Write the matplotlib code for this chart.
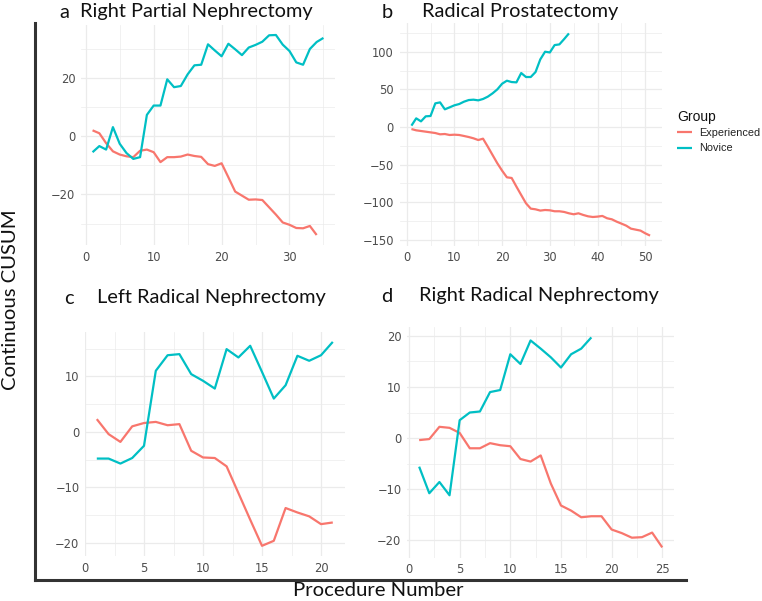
import numpy as np
import matplotlib
matplotlib.use("Agg")
import matplotlib.pyplot as plt
from matplotlib.lines import Line2D
from matplotlib.ticker import MultipleLocator

plt.rcParams['font.family'] = ['Liberation Sans', 'DejaVu Sans']

# ---------------- data ----------------
groups = ["Experienced", "Novice"]
colors = {"Experienced": "#F8766D", "Novice": "#00BFC4"}

# a  Right Partial Nephrectomy
a_exp = [2.0, 1.0, -2.4, -5.2, -6.3, -6.9, -7.2, -5.0, -4.6, -5.5, -8.9, -7.2, -7.2, -7.0,
         -6.3, -6.8, -7.1, -9.6, -10.2, -9.3, -14.1, -19.0, -20.4, -21.8, -21.7, -21.9,
         -24.4, -26.9, -29.6, -30.4, -31.5, -31.6, -30.8, -33.9]
a_nov = [-5.5, -3.4, -4.6, 3.1, -2.6, -5.8, -7.8, -7.2, 7.3, 10.5, 10.5, 19.5, 16.8, 17.2,
         21.2, 24.3, 24.5, 31.5, 29.4, 27.4, 31.7, 29.8, 27.8, 30.4, 31.3, 32.4, 34.6, 34.7,
         31.4, 29.2, 25.3, 24.5, 29.9, 32.3, 33.7]

# b  Radical Prostatectomy
b_exp = [-2.7, -4.4, -5.3, -6.2, -7.1, -8.0, -9.7, -9.3, -10.6, -10.2, -10.6, -11.9, -13.3,
         -15.0, -17.3, -15.5, -26.1, -37.2, -48.2, -58.0, -66.8, -67.7, -79.2, -90.3, -101.3,
         -108.4, -109.3, -111.0, -110.2, -110.6, -111.9, -111.9, -112.8, -114.6, -115.9,
         -114.6, -116.8, -118.6, -119.5, -119.0, -118.1, -121.2, -122.6, -125.7, -128.3,
         -131.0, -135.0, -136.3, -137.6, -141.2, -144.2]
b_nov = [1.8, 11.5, 7.5, 14.2, 14.6, 31.4, 32.7, 23.5, 26.1, 28.8, 30.5, 33.6, 35.8, 36.3,
         35.4, 37.2, 40.3, 44.7, 50.0, 57.5, 61.5, 59.7, 59.3, 71.7, 66.4, 66.4, 73.0, 89.8,
         100.0, 99.0, 108.8, 109.7, 116.8, 124.3]

# c  Left Radical Nephrectomy
c_exp = [2.3, -0.4, -1.8, 1.0, 1.6, 1.8, 1.2, 1.4, -3.4, -4.6, -4.7, -6.2, -11.0, -15.8,
         -20.5, -19.6, -13.7, -14.5, -15.2, -16.6, -16.3]
c_nov = [-4.8, -4.8, -5.7, -4.7, -2.5, 11.0, 13.8, 14.0, 10.4, 9.2, 7.8, 14.9, 13.4, 15.5,
         10.8, 6.0, 8.4, 13.7, 12.8, 13.8, 16.2]

# d  Right Radical Nephrectomy
d_exp = [-0.4, -0.2, 2.2, 2.0, 1.0, -2.0, -2.0, -1.0, -1.4, -1.6, -4.1, -4.6, -3.4, -8.9,
         -13.2, -14.2, -15.5, -15.3, -15.3, -17.9, -18.6, -19.5, -19.4, -18.5, -21.4]
d_nov = [-5.6, -10.8, -8.6, -11.2, 3.5, 5.0, 5.2, 9.0, 9.4, 16.4, 14.5, 19.1, 17.5, 15.8,
         13.8, 16.4, 17.5, 19.7]

panel_letters = ["a", "b", "c", "d"]
panel_titles = ["Right Partial Nephrectomy", "Radical Prostatectomy",
                "Left Radical Nephrectomy", "Right Radical Nephrectomy"]
x_label = "Procedure Number"
y_label = "Continuous CUSUM"
legend_title = "Group"

# ---------------- layout ----------------
W, H = 762, 601
fig = plt.figure(figsize=(W / 100, H / 100), dpi=100)

def box(l, r, t, b):
    return [l / W, 1 - b / H, (r - l) / W, (b - t) / H]

panels = [
    dict(exp=a_exp, nov=a_nov, pos=box(81, 335, 25, 245), xmaj=10, ymaj=20,
         letter_xy=(59, 12), title_xy=(80, 12)),
    dict(exp=b_exp, nov=b_nov, pos=box(399.5, 662, 23.3, 245.7), xmaj=10, ymaj=50,
         letter_xy=(382, 12), title_xy=(422, 12)),
    dict(exp=c_exp, nov=c_nov, pos=box(85, 344.6, 331.7, 556), xmaj=5, ymaj=10,
         letter_xy=(64, 298), title_xy=(97, 298)),
    dict(exp=d_exp, nov=d_nov, pos=box(407, 674.4, 326.9, 557.9), xmaj=5, ymaj=10,
         letter_xy=(381, 296), title_xy=(419, 296)),
]

grid_col = "#EBEBEB"
tick_col = "#4D4D4D"
title_font = ['Lato', 'DejaVu Sans']

handles = None
for i, p in enumerate(panels):
    ax = fig.add_axes(p["pos"])
    hs = []
    for g, vals in (("Experienced", p["exp"]), ("Novice", p["nov"])):
        x = np.arange(1, len(vals) + 1)
        h, = ax.plot(x, vals, color=colors[g], lw=1.6, label=g, solid_capstyle='butt')
        hs.append(h)
    handles = hs
    ax.margins(0.05)
    ax.xaxis.set_major_locator(MultipleLocator(p["xmaj"]))
    ax.xaxis.set_minor_locator(MultipleLocator(p["xmaj"] / 2))
    ax.yaxis.set_major_locator(MultipleLocator(p["ymaj"]))
    ax.yaxis.set_minor_locator(MultipleLocator(p["ymaj"] / 2))
    xl = ax.get_xlim()
    ax.set_xlim(xl)
    yl = ax.get_ylim()
    ax.set_ylim(yl)
    ax.grid(which='major', color=grid_col, lw=0.9)
    ax.grid(which='minor', color=grid_col, lw=0.5)
    ax.set_axisbelow(True)
    for s in ax.spines.values():
        s.set_visible(False)
    ax.tick_params(which='both', length=0, colors=tick_col, pad=4)
    for lab in ax.get_xticklabels() + ax.get_yticklabels():
        lab.set_fontfamily('DejaVu Sans')
        lab.set_fontsize(8.3)
    fig.text(p["letter_xy"][0] / W, 1 - p["letter_xy"][1] / H, panel_letters[i],
             fontsize=14.4, va='center', ha='left', family=title_font, color='#111111')
    fig.text(p["title_xy"][0] / W, 1 - p["title_xy"][1] / H, panel_titles[i],
             fontsize=14.4, va='center', ha='left', family=title_font, color='#111111')

# outer frame (L-shape)
fig.add_artist(Line2D([35 / W, 35 / W], [1 - 23 / H, 1 - 580 / H], color='#333333', lw=2.2))
fig.add_artist(Line2D([35 / W, 686 / W], [1 - 580 / H, 1 - 580 / H], color='#333333', lw=2.2))

fig.text(11 / W, 1 - 300 / H, y_label, rotation=90, fontsize=14.6, va='center', ha='center',
         family=title_font, color='#111111')
fig.text(378 / W, 1 - 591 / H, x_label, fontsize=14.6, va='center', ha='center',
         family=title_font, color='#111111')

fig.text(677 / W, 1 - 117 / H, legend_title, fontsize=10, va='center', ha='left',
         color='#111111')
leg = fig.legend(handles=handles, labels=groups,
                 loc='upper left', bbox_to_anchor=(677 / W, 1 - 128 / H),
                 frameon=False, fontsize=7.8,
                 handlelength=1.35, handletextpad=0.7, labelspacing=0.5,
                 borderaxespad=0, borderpad=0)
for t in leg.get_texts():
    t.set_color('#222222')

fig.savefig("out.png", dpi=100)
